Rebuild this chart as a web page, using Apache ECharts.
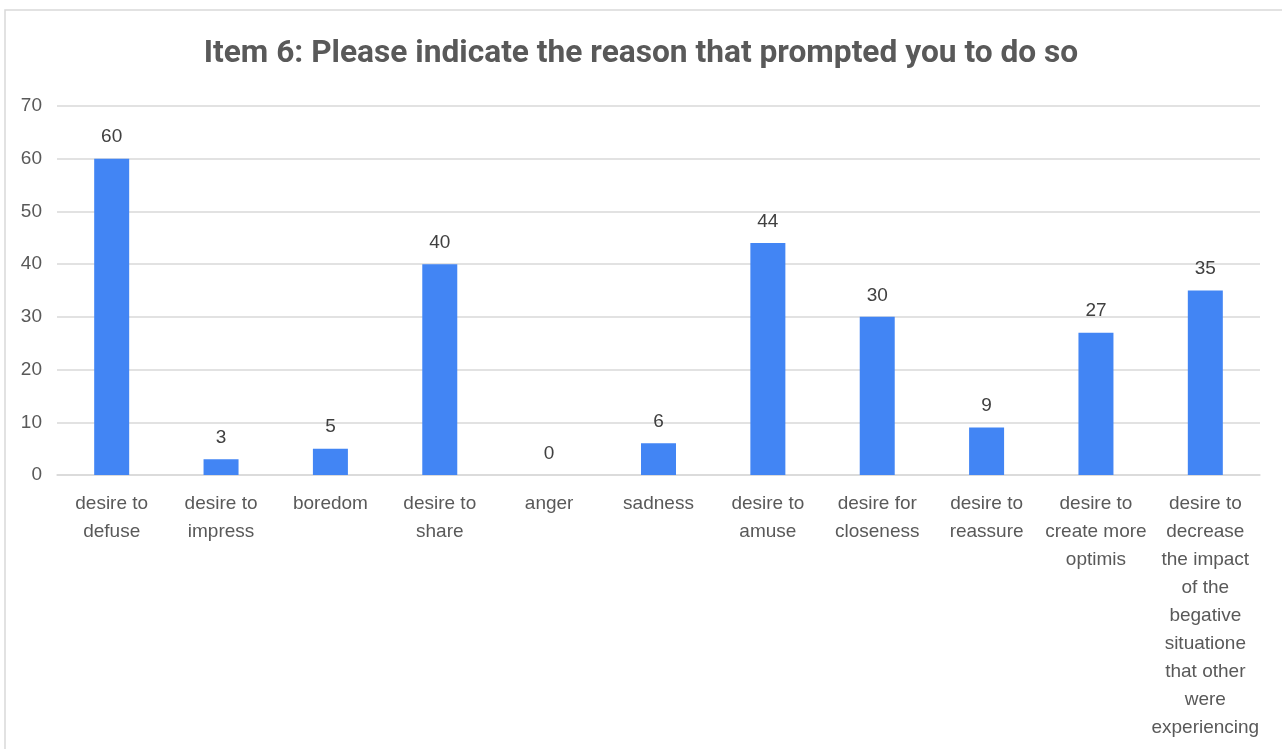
<!DOCTYPE html>
<html>
<head>
<meta charset="utf-8">
<script src="https://cdn.jsdelivr.net/npm/echarts@6/dist/echarts.min.js"></script>
<style>
html,body{margin:0;padding:0;background:#fff;}
#main{width:1282px;height:749px;}
</style>
</head>
<body>
<div id="main"></div>
<script>
const titleText = 'Item 6: Please indicate the reason that prompted you to do so';
const categories = [
  'desire to\ndefuse',
  'desire to\nimpress',
  'boredom',
  'desire to\nshare',
  'anger',
  'sadness',
  'desire to\namuse',
  'desire for\ncloseness',
  'desire to\nreassure',
  'desire to\ncreate more\noptimis',
  'desire to\ndecrease\nthe impact\nof the\nbegative\nsituatione\nthat other\nwere\nexperiencing'
];
const values = [60, 3, 5, 40, 0, 6, 44, 30, 9, 27, 35];
const yTicks = [0, 10, 20, 30, 40, 50, 60, 70];

const chart = echarts.init(document.getElementById('main'), null, {renderer: 'canvas'});
chart.setOption({
  animation: false,
  backgroundColor: '#ffffff',
  graphic: [{
    type: 'rect',
    shape: {x: 5, y: 10, width: 1290, height: 760},
    style: {fill: 'none', stroke: '#d9d9d9', lineWidth: 1.5},
    silent: true
  }],
  title: {
    text: titleText,
    left: 'center',
    top: 33,
    textStyle: {fontFamily: 'Roboto', fontWeight: 'bold', fontSize: 31.7, color: '#595959'}
  },
  grid: {left: 57, right: 22, top: 106, bottom: 274, containLabel: false},
  xAxis: {
    type: 'category',
    data: categories,
    axisTick: {show: false},
    axisLine: {show: true, lineStyle: {color: '#d9d9d9', width: 1.5}},
    axisLabel: {
      interval: 0,
      margin: 15,
      fontFamily: 'Liberation Sans',
      fontSize: 19,
      lineHeight: 28,
      color: '#595959',
      align: 'center'
    }
  },
  yAxis: {
    type: 'value',
    min: yTicks[0],
    max: yTicks[yTicks.length - 1],
    interval: 10,
    axisLine: {show: false},
    axisTick: {show: false},
    splitLine: {lineStyle: {color: '#d9d9d9', width: 1.5}},
    axisLabel: {
      margin: 15,
      fontFamily: 'Liberation Sans',
      fontSize: 19,
      color: '#595959'
    }
  },
  series: [{
    type: 'bar',
    data: values,
    barWidth: 35,
    itemStyle: {color: '#4285f4'},
    label: {
      show: true,
      position: 'top',
      distance: 12,
      fontFamily: 'Liberation Sans',
      fontSize: 19,
      color: '#404040'
    }
  }]
});
</script>
</body>
</html>
